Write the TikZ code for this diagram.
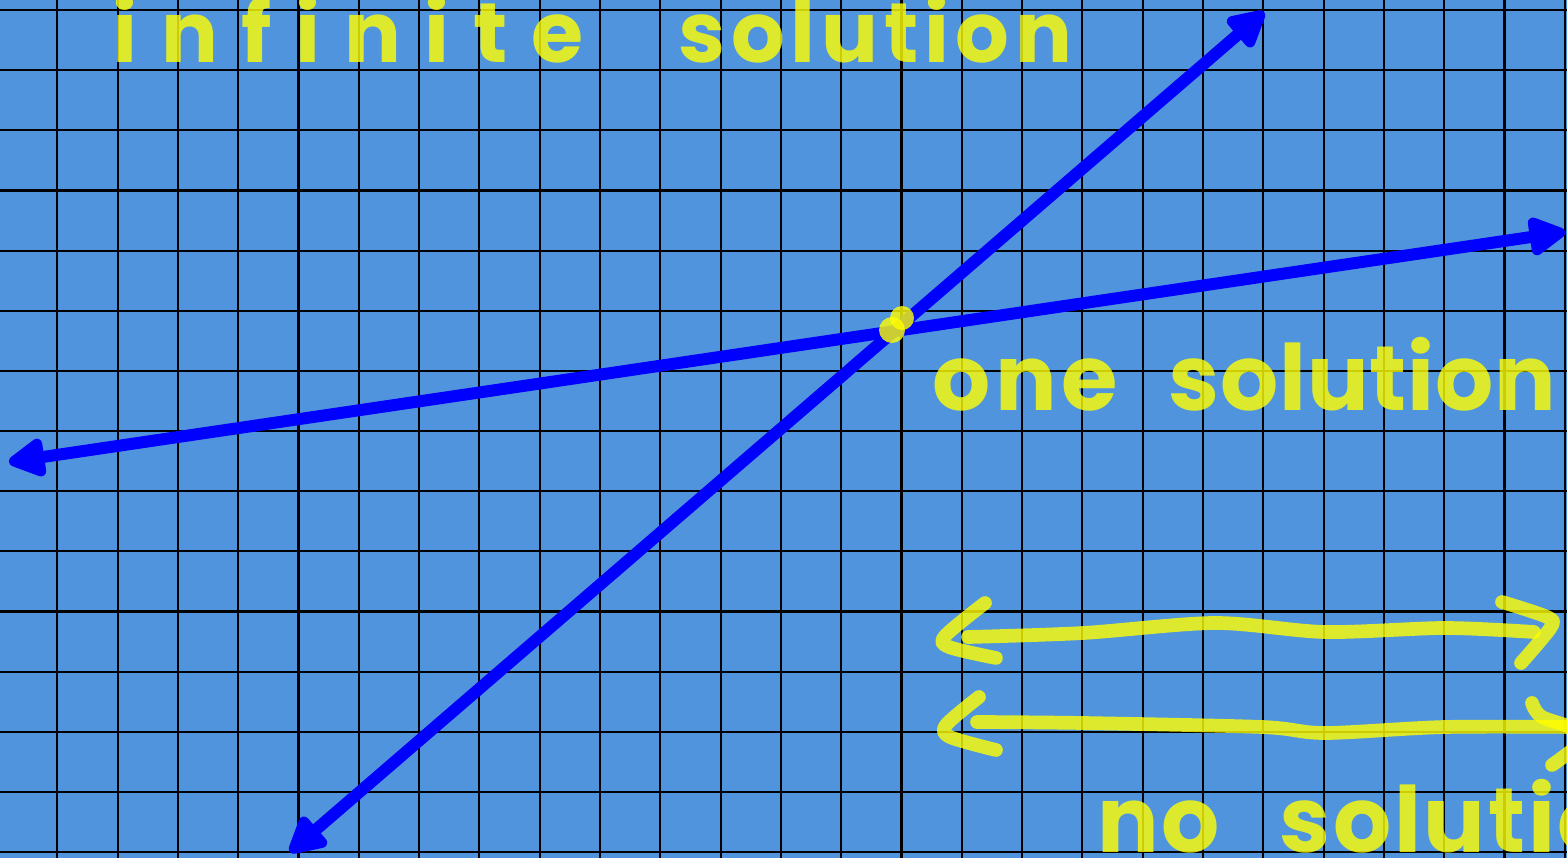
\documentclass[tikz,border=0pt]{standalone}
\usepackage{fontspec}
\setmainfont{Poppins}
\usepackage{tikz}
\usetikzlibrary{arrows.meta}
\definecolor{paperblue}{RGB}{80,148,222}
\definecolor{penblue}{RGB}{0,0,255}
\definecolor{penyellow}{RGB}{255,255,0}
\tikzset{
  grid line/.style={
    black,
    line width=0.6pt
  },
  pen line/.style={
    penblue,
    line width=3.4pt,
    {Triangle[round,length=0.42cm,width=0.42cm]}-{Triangle[round,length=0.42cm,width=0.42cm]}
  },
  marker/.style={
    penyellow,
    opacity=0.8,
    line width=3.9pt,
    line cap=round,
    line join=round
  },
  hand text/.style={
    text=penyellow,
    text opacity=0.8,
    inner sep=0pt,
    anchor=base west,
    font=\fontsize{26}{30}\selectfont\bfseries
  }
}

\begin{document}
\begin{tikzpicture}[x=0.01cm, y=-0.01cm]

  % Paper
  \useasboundingbox (0,0) rectangle (1567,858);
  \clip (0,0) rectangle (1567,858);
  \fill[paperblue] (0,0) rectangle (1567,858);

  % Grid
  \foreach \i in {0,...,25} {
    \draw[grid line] (57.3+60.3*\i, 0) -- (57.3+60.3*\i, 858);
  }
  \foreach \j in {0,...,14} {
    \draw[grid line] (0, 10+60.15*\j) -- (1567, 10+60.15*\j);
  }

  % Two crossing lines
  \coordinate (steepLow) at (290,852);
  \coordinate (steepHigh) at (1264,12);
  \coordinate (flatLeft) at (9,462);
  \coordinate (flatRight) at (1565,232);
  \draw[pen line] (steepLow) -- (steepHigh);
  \draw[pen line] (flatLeft) -- (flatRight);

  % Crossing point
  \fill[penyellow, opacity=0.8] (902,318) circle (12);
  \fill[penyellow, opacity=0.8] (892,330) circle (13);

  % Labels
  \node[hand text, font=\fontsize{24}{28}\selectfont\bfseries] (infinite) at (112,63)
    {{\addfontfeature{LetterSpace=28}infinite}\hspace{0.95cm}{\addfontfeature{LetterSpace=7}solution}};
  \node[hand text] (one) at (932,410)
    {{\addfontfeature{LetterSpace=5}one}\hspace{0.5cm}{\addfontfeature{LetterSpace=1}solution}};
  \node[hand text] (none) at (1097,852)
    {{\addfontfeature{LetterSpace=2}no}\hspace{0.6cm}{\addfontfeature{LetterSpace=3}solution}};

  % Parallel lines
  \draw[marker] plot[smooth] coordinates {(968,637) (1083,633) (1215,623) (1325,632) (1445,628) (1534,632)};
  \draw[marker] plot[smooth] coordinates {(985,603) (945,636) (949,647) (996,658)};
  \draw[marker] plot[smooth] coordinates {(1502,602) (1547,617) (1551,627) (1521,663)};

  \draw[marker] plot[smooth] coordinates {(977,722) (1083,723) (1262,727) (1325,733) (1445,727) (1580,727)};
  \draw[marker] plot[smooth] coordinates {(979,697) (946,725) (950,737) (996,750)};
  \draw[marker] plot[smooth] coordinates {(1532,703) (1542,717) (1585,735) (1552,765)};

\end{tikzpicture}
\end{document}
